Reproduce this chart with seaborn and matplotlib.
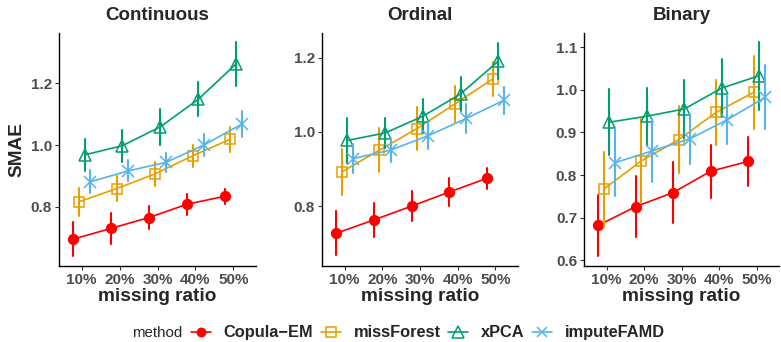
import numpy as np
import pandas as pd
import matplotlib
matplotlib.use("Agg")
import matplotlib.pyplot as plt
from matplotlib.lines import Line2D
import seaborn as sns

ratios = ["10%", "20%", "30%", "40%", "50%"]
methods = ["Copula\u2212EM", "missForest", "xPCA", "imputeFAMD"]
panels = ["Continuous", "Ordinal", "Binary"]

# mean SMAE per panel / method
cont_mean = {
    "Copula\u2212EM": [0.695, 0.730, 0.765, 0.808, 0.834],
    "missForest": [0.816, 0.859, 0.906, 0.965, 1.019],
    "xPCA": [0.968, 0.998, 1.059, 1.148, 1.263],
    "imputeFAMD": [0.881, 0.916, 0.944, 1.000, 1.068],
}
cont_err = {
    "Copula\u2212EM": [0.055, 0.050, 0.038, 0.034, 0.025],
    "missForest": [0.046, 0.040, 0.039, 0.036, 0.040],
    "xPCA": [0.052, 0.052, 0.058, 0.055, 0.071],
    "imputeFAMD": [0.038, 0.034, 0.030, 0.036, 0.042],
}
ord_mean = {
    "Copula\u2212EM": [0.727, 0.763, 0.800, 0.838, 0.875],
    "missForest": [0.892, 0.951, 1.009, 1.075, 1.142],
    "xPCA": [0.977, 0.997, 1.042, 1.102, 1.190],
    "imputeFAMD": [0.928, 0.951, 0.990, 1.036, 1.085],
}
ord_err = {
    "Copula\u2212EM": [0.059, 0.046, 0.041, 0.037, 0.029],
    "missForest": [0.063, 0.060, 0.059, 0.049, 0.045],
    "xPCA": [0.061, 0.040, 0.046, 0.045, 0.049],
    "imputeFAMD": [0.038, 0.031, 0.036, 0.038, 0.037],
}
bin_mean = {
    "Copula\u2212EM": [0.682, 0.726, 0.759, 0.809, 0.832],
    "missForest": [0.767, 0.833, 0.883, 0.947, 0.994],
    "xPCA": [0.924, 0.938, 0.955, 1.004, 1.033],
    "imputeFAMD": [0.829, 0.857, 0.885, 0.930, 0.982],
}
bin_err = {
    "Copula\u2212EM": [0.071, 0.072, 0.071, 0.062, 0.057],
    "missForest": [0.088, 0.099, 0.079, 0.076, 0.085],
    "xPCA": [0.078, 0.067, 0.067, 0.069, 0.080],
    "imputeFAMD": [0.078, 0.074, 0.058, 0.056, 0.075],
}

yticks = {
    "Continuous": [0.8, 1.0, 1.2],
    "Ordinal": [0.8, 1.0, 1.2],
    "Binary": [0.6, 0.7, 0.8, 0.9, 1.0, 1.1],
}
ylims = {
    "Continuous": (0.608, 1.363),
    "Ordinal": (0.639, 1.266),
    "Binary": (0.587, 1.133),
}
data = {
    "Continuous": (cont_mean, cont_err),
    "Ordinal": (ord_mean, ord_err),
    "Binary": (bin_mean, bin_err),
}

colors = {"Copula\u2212EM": "#FF0000", "missForest": "#E69F00",
          "xPCA": "#009E73", "imputeFAMD": "#56B4E9"}
markers = {"Copula\u2212EM": "o", "missForest": "s", "xPCA": "^", "imputeFAMD": "x"}
msizes = {"Copula\u2212EM": 7.0, "missForest": 7.5, "xPCA": 9.0, "imputeFAMD": 8.5}
open_m = {"missForest", "xPCA"}

sns.set_theme(style="white")
plt.rcParams["font.family"] = ["Liberation Sans", "DejaVu Sans"]

fig = plt.figure(figsize=(7.81, 3.42), dpi=100)
lefts = [59, 322, 584]
widths = [197, 196, 195]
bottom_px, top_px = 266, 33
W, H = 781, 342
tick_color = "#4D4D4D"

for i, p in enumerate(panels):
    ax = fig.add_axes([lefts[i] / W, 1 - bottom_px / H, widths[i] / W, (bottom_px - top_px) / H])
    means, errs = data[p]
    rows = []
    for m in methods:
        for j, r in enumerate(ratios):
            v, e = means[m][j], errs[m][j]
            for val in (v - e, v, v + e):
                rows.append({"ratio": r, "method": m, "SMAE": val})
    df = pd.DataFrame(rows)
    sns.pointplot(
        data=df, x="ratio", y="SMAE", hue="method", order=ratios, hue_order=methods,
        estimator="median", errorbar=lambda x: (np.min(x), np.max(x)),
        dodge=0.45, palette=colors, markers=[markers[m] for m in methods],
        linestyles="-", linewidth=1.2, err_kws={"linewidth": 1.5},
        ax=ax, legend=False,
    )
    # style the lines with markers
    for ln in ax.lines:
        mk = ln.get_marker()
        if mk in (None, "None", "", " "):
            continue
        col = ln.get_color()
        m = [k for k in methods if matplotlib.colors.to_hex(colors[k]) == matplotlib.colors.to_hex(col)]
        if not m:
            continue
        m = m[0]
        ln.set_markersize(msizes[m])
        ln.set_markeredgewidth(1.1)
        if m in open_m:
            ln.set_markerfacecolor("none")
        ln.set_markeredgecolor(col)
    ax.set_xlim(-0.6, 4.6)
    ax.set_ylim(*ylims[p])
    ax.set_yticks(yticks[p])
    ax.set_yticklabels([f"{t:.1f}" for t in yticks[p]])
    for s in ["top", "right"]:
        ax.spines[s].set_visible(False)
    for s in ["left", "bottom"]:
        ax.spines[s].set_color("black")
        ax.spines[s].set_linewidth(1.0)
    ax.tick_params(axis="both", which="both", length=3, width=0.8, color="#333333",
                   labelsize=11, labelcolor=tick_color, pad=2, left=True, bottom=True)
    for lab in ax.get_xticklabels() + ax.get_yticklabels():
        lab.set_fontweight("bold")
    ax.set_title(p, fontsize=13.5, fontweight="bold", pad=9)
    ax.set_xlabel("missing ratio", fontsize=13.7, fontweight="bold", labelpad=1)
    if i == 0:
        ax.set_ylabel("SMAE", fontsize=13.7, fontweight="bold", labelpad=4)
    else:
        ax.set_ylabel("")
    ax.grid(False)

handles = []
for m in methods:
    h = Line2D([0], [0], color=colors[m], marker=markers[m], linewidth=1.2,
               markersize=msizes[m] - 1.0, markeredgewidth=1.1,
               markerfacecolor="none" if m in open_m else colors[m],
               markeredgecolor=colors[m])
    handles.append(h)
leg = fig.legend(handles, methods, loc="center left", bbox_to_anchor=(191 / W, 0.027), ncol=4,
                 frameon=False, handlelength=1.25, handletextpad=0.75, columnspacing=0.45,
                 borderpad=0, borderaxespad=0,
                 prop={"weight": "bold", "size": 11.8})
fig.text(132 / W, 0.027, "method", fontsize=10.8, ha="left", va="center")

fig.savefig("out.png", dpi=100)
